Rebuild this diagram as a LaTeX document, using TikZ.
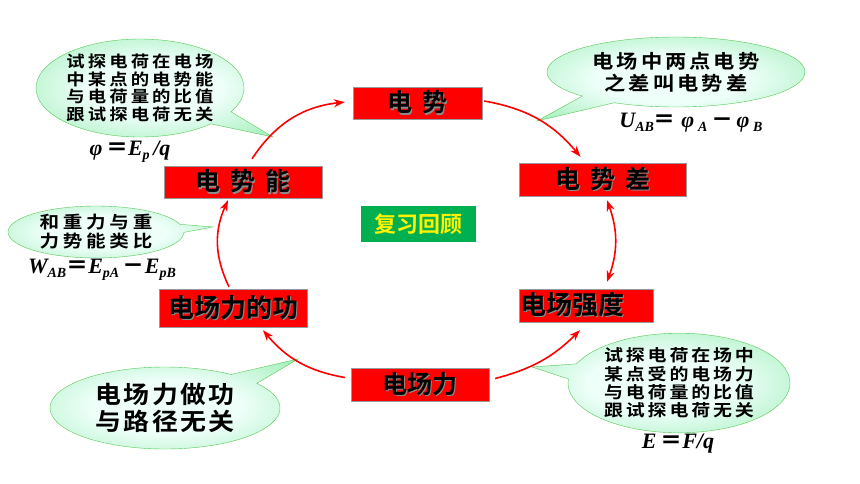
\documentclass[tikz,border=0pt]{standalone}
\usepackage{fontspec}
\newfontfamily\hei{Noto Sans CJK SC Bold}
\newfontfamily\tnr{Liberation Serif}
\usetikzlibrary{arrows.meta}
\usetikzlibrary{calc}
\usetikzlibrary{shapes.callouts}

\definecolor{boxred}{RGB}{255,0,0}
\definecolor{revgreen}{RGB}{0,176,80}
\definecolor{bubedge}{RGB}{85,200,85}
\definecolor{bubout}{RGB}{115,228,145}
\definecolor{bubin}{RGB}{238,255,250}
\pgfdeclareradialshading{bubshade}{\pgfpoint{0bp}{0bp}}{color(0bp)=(bubin); color(14bp)=(bubin); color(48bp)=(bubout); color(60bp)=(bubout)}

\newcommand{\fml}{\tnr\bfseries\itshape}
\newcommand{\eqsign}{{\hei ＝}}
\newcommand{\mnsign}{{\hei －}}
\newcommand{\sub}[1]{\raisebox{-4pt}{\fontsize{14}{14}\selectfont #1}}
\newcommand{\shtxt}[1]{\makebox[0pt][l]{\hspace{1.3pt}\raisebox{-1.3pt}{\textcolor{black!45}{#1}}}#1}

\begin{document}
\begin{tikzpicture}[x=1pt, y=-1pt,
    box/.style={draw=gray!80, fill=boxred, inner sep=0pt, font=\hei\fontsize{25}{25}\selectfont},
    bubble/.style={ellipse callout, draw=bubedge, shade, shading=bubshade, inner sep=0pt, align=center, callout pointer arc=18},
    arr/.style={draw=red, line width=1.6pt, -{Stealth[length=11pt, width=8pt]}},
    formula/.style={inner sep=0pt, font=\fml\fontsize{22}{22}\selectfont}]
  \useasboundingbox (0,0) rectangle (860,483);

  \node[box, minimum width=129pt, minimum height=32pt] (pot) at (417.5,103) {\shtxt{电\hspace{10pt}势}};
  \node[box, minimum width=158pt, minimum height=32pt] (pe) at (243,182) {\shtxt{电\hspace{10pt}势\hspace{10pt}能}};
  \node[box, minimum width=167pt, minimum height=33pt] (diff) at (602.5,179.5) {\shtxt{电\hspace{10pt}势\hspace{10pt}差}};
  \node[box, minimum width=134pt, minimum height=33pt, text width=132pt, align=left, font=\hei\fontsize{26}{26}\selectfont] (field) at (586,305.5) {\shtxt{电场强度}};
  \node[box, minimum width=148pt, minimum height=38pt, font=\hei\fontsize{26}{26}\selectfont] (work) at (233,308) {\shtxt{电场力的功}};
  \node[box, minimum width=138pt, minimum height=33pt] (force) at (420,384.5) {\shtxt{电场力}};
  \node[fill=revgreen, text=yellow, minimum width=115pt, minimum height=36pt, inner sep=0pt, font=\hei\fontsize{22}{22}\selectfont] (review) at (418.5,224) {复习回顾};

  \coordinate (tlTip) at (273,137);
  \coordinate (trTip) at (537,121);
  \coordinate (mlTip) at (213,227);
  \coordinate (brTip) at (532,367);
  \coordinate (blTip) at (298,359);

  \node[bubble, minimum width=208pt, minimum height=98pt, callout absolute pointer={(tlTip)}, font=\hei\fontsize{16}{17.7}\selectfont\addfontfeatures{FakeStretch=1.15, LetterSpace=19}] (peNote) at (140,88) {试探电荷在电场\\中某点的电势能\\与电荷量的比值\\跟试探电荷无关};
  \node[bubble, minimum width=258pt, minimum height=70pt, callout absolute pointer={(trTip)}, font=\hei\fontsize{19}{22}\selectfont\addfontfeatures{FakeStretch=1.12, LetterSpace=16}] (diffNote) at (676,72) {电场中两点电势\\之差叫电势差};
  \node[bubble, minimum width=176pt, minimum height=52pt, callout absolute pointer={(mlTip)}, font=\hei\fontsize{17}{19}\selectfont\addfontfeatures{FakeStretch=1.15, LetterSpace=22}] (gravNote) at (96,232) {和重力与重\\力势能类比};
  \node[bubble, minimum width=222pt, minimum height=99pt, callout absolute pointer={(brTip)}, font=\hei\fontsize{16.5}{18.3}\selectfont\addfontfeatures{FakeStretch=1.15, LetterSpace=17}] (fieldNote) at (679,383) {试探电荷在场中\\某点受的电场力\\与电荷量的比值\\跟试探电荷无关};
  \node[bubble, minimum width=230pt, minimum height=82pt, callout absolute pointer={(blTip)}, font=\hei\fontsize{24}{27}\selectfont\addfontfeatures{FakeStretch=1.08, LetterSpace=9}] (pathNote) at (165,408) {电场力做功\\与路径无关};

  \node[formula] (peForm) at (130,152) {φ\,\eqsign E\sub{p}\,/q};
  \node[formula] (diffForm) at (691,123) {U\sub{AB}\eqsign\ φ\,\sub{A}\,\mnsign\,φ\,\sub{B}};
  \node[formula] (workForm) at (102,270) {W\sub{AB}\eqsign E\sub{pA}\,\mnsign E\sub{pB}};
  \node[formula] (fieldForm) at (678,444) {E\,\eqsign F/q};

  \draw[arr] ($(force.west)+(-6,-7)$) to[bend left=20] ($(work.south)+(30,3)$);
  \draw[arr] ($(work.north)+(-4,-2)$) to[bend left=25] ($(pe.south)+(-15,2)$);
  \draw[arr] ($(pe.north)+(9,-7)$) to[bend left=25] ($(pot.west)+(-8,-1)$);
  \draw[arr] ($(pot.east)+(2,-2)$) to[bend left=20] ($(diff.north)+(-22,-6)$);
  \draw[arr, {Stealth[length=11pt, width=8pt]}-{Stealth[length=11pt, width=8pt]}] ($(diff.south)+(4.5,4)$) to[bend left=20] ($(field.north)+(21,-7)$);
  \draw[arr] ($(force.east)+(6,-6)$) to[bend right=15] ($(field.south)+(-6,8)$);
\end{tikzpicture}
\end{document}
